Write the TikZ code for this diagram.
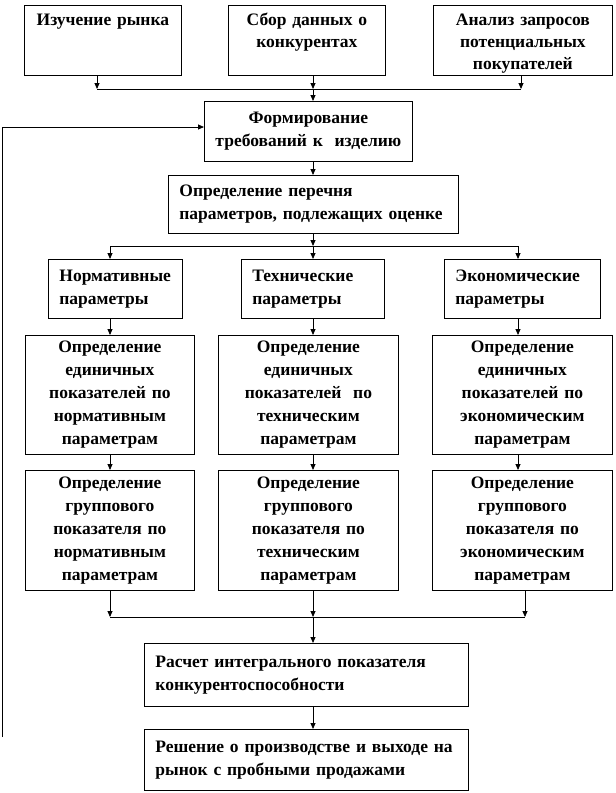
\documentclass[tikz,border=0pt]{standalone}
\usepackage{fontspec}
\setmainfont{Liberation Serif}
\usetikzlibrary{arrows.meta}
\begin{document}
\begin{tikzpicture}[x=1pt,y=-1pt,
  box/.style={draw, line width=0.8pt, inner ysep=0pt, anchor=north west,
    font=\bfseries\fontsize{17.5}{23}\selectfont},
  cbox/.style={box, align=center, inner xsep=2pt},
  lbox/.style={box, align=left, inner xsep=11pt},
  arr/.style={line width=0.8pt, -{Triangle[length=6pt,width=5pt]}},
  ln/.style={line width=0.8pt}]
\useasboundingbox (0,0) rectangle (616,793);
% top row
\node[cbox, text width=153pt, minimum width=157pt, text height=20pt, text depth=50pt, font=\bfseries\fontsize{17.5}{22}\selectfont] (A) at (24,5) {Изучение рынка};
\node[cbox, text width=153pt, minimum width=157pt, text height=20pt, text depth=50pt, font=\bfseries\fontsize{17.5}{22}\selectfont] (B) at (228,5) {Сбор данных о\\конкурентах};
\node[cbox, text width=175pt, minimum width=179pt, text height=20pt, text depth=50pt, font=\bfseries\fontsize{17.5}{22}\selectfont] (C) at (433,5) {Анализ запросов\\потенциальных\\покупателей};
% middle
\node[cbox, text width=204pt, minimum width=208pt, minimum height=60pt] (F) at (204,101) {Формирование\\требований к\ \ изделию};
\node[lbox, text width=268pt, minimum width=290pt, minimum height=58pt] (P) at (168,175) {Определение перечня\\параметров, подлежащих оценке};
% parameters
\node[lbox, text width=112pt, minimum width=134pt, minimum height=59pt] (N1) at (48,259) {Нормативные\\параметры};
\node[lbox, text width=121pt, minimum width=143pt, minimum height=59pt] (N2) at (241,259) {Технические\\параметры};
\node[lbox, text width=134pt, minimum width=156pt, minimum height=59pt] (N3) at (444,259) {Экономические\\параметры};
% unit indicators
\node[cbox, text width=165pt, minimum width=169pt, minimum height=119pt] (E1) at (25,335) {Определение\\единичных\\показателей по\\нормативным\\параметрам};
\node[cbox, text width=176pt, minimum width=180pt, minimum height=119pt] (E2) at (218,335) {Определение\\единичных\\показателей\ \ по\\техническим\\параметрам};
\node[cbox, text width=176pt, minimum width=180pt, minimum height=119pt] (E3) at (432,335) {Определение\\единичных\\показателей по\\экономическим\\параметрам};
% group indicators
\node[cbox, text width=165pt, minimum width=169pt, minimum height=120pt] (G1) at (25,470) {Определение\\группового\\показателя по\\нормативным\\параметрам};
\node[cbox, text width=176pt, minimum width=180pt, minimum height=120pt] (G2) at (218,470) {Определение\\группового\\показателя по\\техническим\\параметрам};
\node[cbox, text width=176pt, minimum width=180pt, minimum height=120pt] (G3) at (432,470) {Определение\\группового\\показателя по\\экономическим\\параметрам};
% bottom
\node[lbox, text width=302pt, minimum width=324pt, minimum height=63pt] (R) at (144,643) {Расчет интегрального показателя\\конкурентоспособности};
\node[lbox, text width=302pt, minimum width=324pt, minimum height=61pt] (S) at (144,729) {Решение о производстве и выходе на\\рынок с пробными продажами};
% connectors: top
\coordinate (t1) at (97,89);
\coordinate (t2) at (313,89);
\coordinate (t3) at (521,89);
\draw[arr] (A.south -| t1) -- (t1);
\draw[arr] (B.south -| t2) -- (t2);
\draw[arr] (C.south -| t3) -- (t3);
\draw[ln] (t1) -- (t3);
\draw[arr] (t2) -- (F.north -| t2);
\draw[arr] (F.south -| t2) -- (P.north -| t2);
% connectors: parameters
\coordinate (m1) at (110,246);
\coordinate (m2) at (313,246);
\coordinate (m3) at (518,246);
\draw[arr] (P.south -| m2) -- (m2);
\draw[ln] (m1) -- (m3);
\draw[arr] (m1) -- (N1.north -| m1);
\draw[arr] (m2) -- (N2.north -| m2);
\draw[arr] (m3) -- (N3.north -| m3);
\draw[arr] (N1.south -| m1) -- (E1.north -| m1);
\draw[arr] (N2.south -| m2) -- (E2.north -| m2);
\draw[arr] (N3.south -| m3) -- (E3.north -| m3);
\draw[arr] (E1.south -| m1) -- (G1.north -| m1);
\draw[arr] (E2.south -| m2) -- (G2.north -| m2);
\draw[arr] (E3.south -| m3) -- (G3.north -| m3);
% connectors: bottom
\coordinate (b1) at (110,617);
\coordinate (b2) at (313,617);
\coordinate (b3) at (525,617);
\draw[arr] (G1.south -| b1) -- (b1);
\draw[arr] (G2.south -| b2) -- (b2);
\draw[arr] (G3.south -| b3) -- (b3);
\draw[ln] (b1) -- (b3);
\draw[arr] (b2) -- (R.north -| b2);
\draw[arr] (R.south -| b2) -- (S.north -| b2);
% feedback
\coordinate (fb0) at (2,737);
\coordinate (fb1) at (2,127);
\draw[arr] (fb0) -- (fb1) -- (F.west |- fb1);
\end{tikzpicture}
\end{document}
